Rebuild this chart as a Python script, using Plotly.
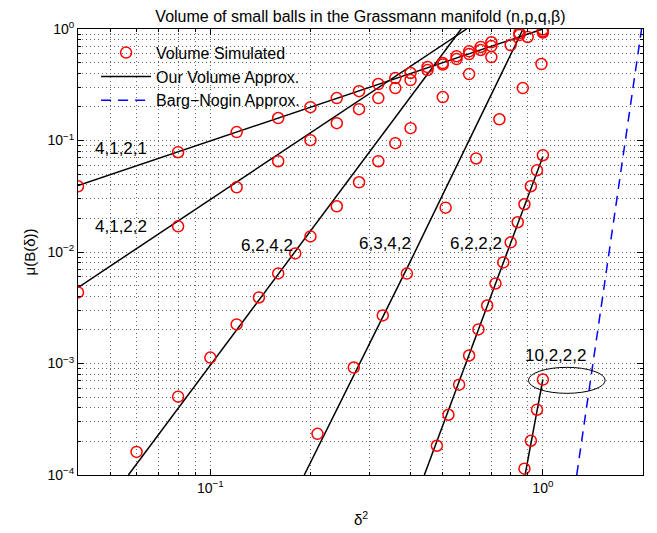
import math
import plotly.graph_objects as go

# ---------------- data ----------------
# simulated volumes, one list pair per (n,p,q,beta)
sim_4121_x = [0.04, 0.08, 0.12, 0.16, 0.20, 0.24, 0.28, 0.32, 0.36, 0.40, 0.45, 0.50, 0.55, 0.60, 0.65, 0.70, 0.85, 1.00]
sim_4121_y = [0.0388, 0.0785, 0.119, 0.159, 0.199, 0.240, 0.277, 0.321, 0.363, 0.403, 0.456, 0.495, 0.57, 0.63, 0.69, 0.76, 0.92, 0.99]

sim_4122_x = [0.04, 0.08, 0.12, 0.16, 0.20, 0.24, 0.28, 0.32, 0.36, 0.40, 0.45, 0.50, 0.55, 0.60, 0.65, 0.70, 0.85, 1.00]
sim_4122_y = [0.00434, 0.0170, 0.0380, 0.0652, 0.1007, 0.143, 0.191, 0.240, 0.295, 0.348, 0.428, 0.48, 0.537, 0.596, 0.648, 0.703, 0.883, 0.95]

sim_6242_x = [0.06, 0.08, 0.10, 0.12, 0.14, 0.16, 0.18, 0.20, 0.24, 0.28, 0.32, 0.36, 0.40, 0.50, 0.60, 0.70, 0.80, 0.90, 1.00]
sim_6242_y = [1.61e-4, 5.04e-4, 1.13e-3, 2.24e-3, 3.91e-3, 6.43e-3, 9.71e-3, 0.0138, 0.0257, 0.0422, 0.0652, 0.0946, 0.129, 0.245, 0.394, 0.560, 0.718, 0.848, 0.93]

sim_6342_x = [0.21, 0.27, 0.33, 0.39, 0.51, 0.63, 0.74, 0.87, 0.99]
sim_6342_y = [2.34e-4, 9.2e-4, 2.7e-3, 6.4e-3, 0.025, 0.069, 0.155, 0.295, 0.485]

sim_6222_x = [0.48, 0.52, 0.56, 0.60, 0.64, 0.68, 0.72, 0.76, 0.80, 0.84, 0.88, 0.92, 0.96, 1.00]
sim_6222_y = [1.83e-4, 3.47e-4, 6.46e-4, 1.18e-3, 2.02e-3, 3.31e-3, 5.22e-3, 8.07e-3, 0.0122, 0.0185, 0.0268, 0.0389, 0.054, 0.0738]

sim_10222_x = [0.88, 0.92, 0.96, 1.00]
sim_10222_y = [1.14e-4, 2.03e-4, 3.85e-4, 7.17e-4]

# our volume approximation (curves)
apx_4121_x = [0.04, 1.0]
apx_4121_y = [0.0395, 1.0]
apx_4122_x = [0.04, 0.59]
apx_4122_y = [0.0048, 1.0]
apx_6242_x = [0.0567, 0.568]
apx_6242_y = [1e-4, 1.0]
apx_6342_x = [0.1916, 0.3914, 0.872]
apx_6342_y = [1e-4, 7.27e-3, 1.0]
apx_6222_x = [0.44, 0.68, 1.0]
apx_6222_y = [1e-4, 3.3e-3, 0.072]
apx_10222_x = [0.884, 1.0]
apx_10222_y = [1e-4, 7.2e-4]

# Barg-Nogin approximation
bn_x = [1.264, 1.561, 1.98]
bn_y = [1e-4, 7.9e-3, 1.0]

# curve labels
label_text = ["4,1,2,1", "4,1,2,2", "6,2,4,2", "6,3,4,2", "6,2,2,2", "10,2,2,2"]
label_x = [0.054, 0.054, 0.1476, 0.3357, 0.630, 1.089]
label_y = [0.0853, 0.0170, 0.01146, 0.01195, 0.01195, 1.18e-3]

# highlight ellipse around the 10,2,2,2 point
ell_x = [0.905, 1.539]
ell_y = [5.40e-4, 9.24e-4]

# ticks
x_tickvals = [0.1, 1]
x_ticktext = ["10<sup>−1</sup>", "10<sup>0</sup>"]
y_tickvals = [1e-4, 1e-3, 1e-2, 1e-1, 1]
y_ticktext = ["10<sup>−4</sup>", "10<sup>−3</sup>", "10<sup>−2</sup>", "10<sup>−1</sup>", "10<sup>0</sup>"]

FONT = "Liberation Sans, Arial, Helvetica, sans-serif"

fig = go.Figure()

sims = [(sim_4121_x, sim_4121_y), (sim_4122_x, sim_4122_y), (sim_6242_x, sim_6242_y),
        (sim_6342_x, sim_6342_y), (sim_6222_x, sim_6222_y), (sim_10222_x, sim_10222_y)]
apxs = [(apx_4121_x, apx_4121_y), (apx_4122_x, apx_4122_y), (apx_6242_x, apx_6242_y),
        (apx_6342_x, apx_6342_y), (apx_6222_x, apx_6222_y), (apx_10222_x, apx_10222_y)]

for i, (xs, ys) in enumerate(apxs):
    fig.add_trace(go.Scatter(x=xs, y=ys, mode="lines", name="Our Volume Approx.",
                             legendgroup="apx", showlegend=(i == 0), legendrank=2,
                             line=dict(color="black", width=1.5)))

fig.add_trace(go.Scatter(x=bn_x, y=bn_y, mode="lines", name="Barg−Nogin Approx.",
                         legendrank=3,
                         line=dict(color="#0000FF", width=1.5, dash="10px,7px")))

for i, (xs, ys) in enumerate(sims):
    fig.add_trace(go.Scatter(x=xs, y=ys, mode="markers", name="Volume Simulated",
                             legendgroup="sim", showlegend=(i == 0), legendrank=1,
                             marker=dict(symbol="circle-open", size=11, color="#FF0000",
                                         line=dict(width=1.5, color="#FF0000"))))

for t, lx, ly in zip(label_text, label_x, label_y):
    fig.add_annotation(x=math.log10(lx), y=math.log10(ly), text=t, showarrow=False,
                       xref="x", yref="y", font=dict(size=17, color="black", family=FONT))

fig.add_shape(type="circle", xref="x", yref="y", x0=ell_x[0], x1=ell_x[1],
              y0=ell_y[0], y1=ell_y[1], line=dict(color="black", width=1))

GRID = "#666666"
axis_common = dict(
    type="log", showline=True, linecolor="black", linewidth=1, mirror="allticks",
    ticks="inside", ticklen=6, tickcolor="black", tickwidth=1,
    showgrid=True, gridcolor=GRID, griddash="1px,3px", gridwidth=1,
    tickfont=dict(size=14, color="black", family=FONT),
    minor=dict(dtick="D1", ticks="inside", ticklen=3, tickcolor="black",
               showgrid=True, gridcolor=GRID, griddash="1px,3px", gridwidth=1),
)

fig.update_xaxes(range=[math.log10(0.04), math.log10(2)], tickmode="array",
                 tickvals=x_tickvals, ticktext=x_ticktext, **axis_common)
fig.update_yaxes(range=[-4, 0], tickmode="array",
                 tickvals=y_tickvals, ticktext=y_ticktext, **axis_common)

fig.add_annotation(text="μ(B(δ))", xref="paper", yref="paper", x=0, y=0.5,
                   xshift=-60, textangle=-90, showarrow=False,
                   font=dict(size=15, color="black", family=FONT))
fig.add_annotation(text="δ<sup>2</sup>", xref="paper", yref="paper", x=0.5, y=0,
                   yshift=-43, yanchor="middle", showarrow=False,
                   font=dict(size=15, color="black", family=FONT))

# the page body adds an 8px offset, so the figure is 8px smaller on each leading side
fig.update_layout(
    width=649, height=525,
    margin=dict(l=70, r=14, t=21, b=58),
    paper_bgcolor="white", plot_bgcolor="white",
    font=dict(family=FONT, color="black"),
    title=dict(text="Volume of small balls in the Grassmann manifold (n,p,q,β)",
               x=0.5, xref="paper", y=1.0, yref="container", yanchor="top",
               pad=dict(t=3, b=0, l=0, r=0),
               font=dict(size=16, color="black", family=FONT)),
    legend=dict(x=0.032, y=0.985, xanchor="left", yanchor="top",
                bgcolor="rgba(0,0,0,0)", borderwidth=0, itemwidth=50,
                font=dict(size=16, color="black", family=FONT),
                tracegroupgap=0),
    showlegend=True,
)

fig.write_html("out.html")
